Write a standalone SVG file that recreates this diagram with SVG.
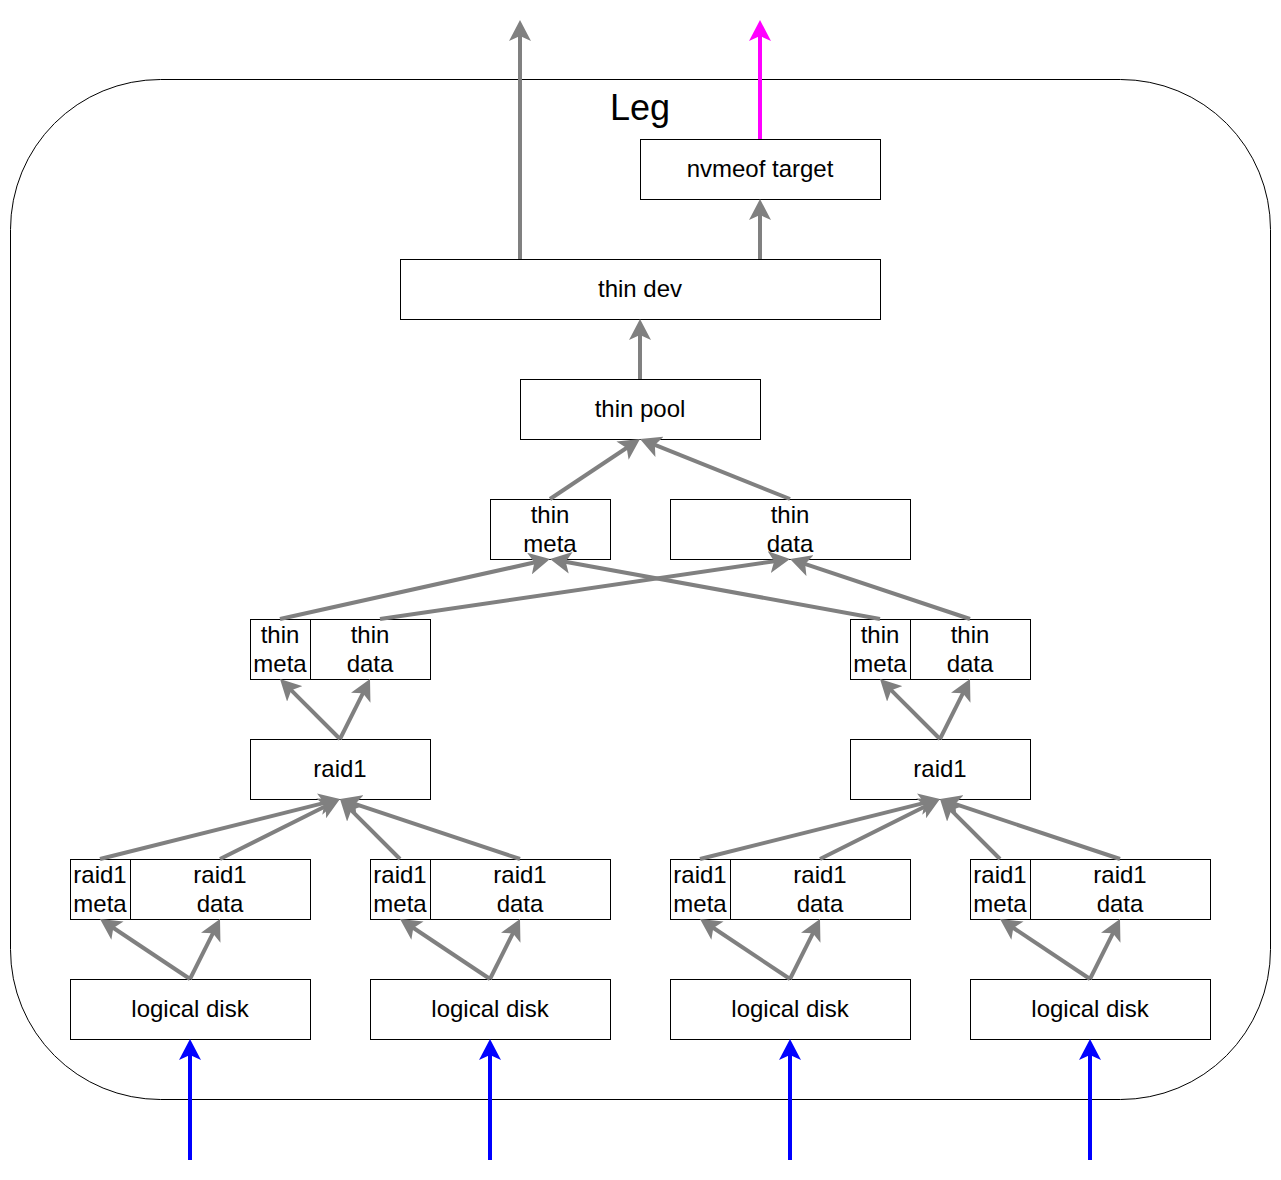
<svg xmlns="http://www.w3.org/2000/svg" width="1281" height="1180" viewBox="0 0 1281 1180">
<style>
.box{fill:#fff;stroke:#000;stroke-width:1}
.t{font-family:"Liberation Sans",Arial,sans-serif;font-size:24px;fill:#000;text-anchor:middle}
.g{stroke:#808080;stroke-width:4;fill:none;marker-end:url(#ag)}
.b{stroke:#0000ff;stroke-width:4;fill:none;marker-end:url(#ab)}
.m{stroke:#ff00ff;stroke-width:4;fill:none;marker-end:url(#am)}
</style>
<defs>
<marker id="ag" markerUnits="userSpaceOnUse" markerWidth="22" markerHeight="22" viewBox="0 0 22 22" refX="7" refY="11" orient="auto"><path d="M0,0 L21,11 L0,22 L5,11 Z" fill="#808080"/></marker>
<marker id="ab" markerUnits="userSpaceOnUse" markerWidth="22" markerHeight="22" viewBox="0 0 22 22" refX="7" refY="11" orient="auto"><path d="M0,0 L21,11 L0,22 L5,11 Z" fill="#0000ff"/></marker>
<marker id="am" markerUnits="userSpaceOnUse" markerWidth="22" markerHeight="22" viewBox="0 0 22 22" refX="7" refY="11" orient="auto"><path d="M0,0 L21,11 L0,22 L5,11 Z" fill="#ff00ff"/></marker>
</defs>
<rect width="1281" height="1180" fill="#fff"/>
<g id="leg">
<rect x="10.5" y="79.5" width="1260" height="1020" rx="150" ry="150" fill="#fff" stroke="#000" stroke-width="1"/>
<text x="640" y="120" class="t" style="font-size:36px">Leg</text>
</g>
<g id="nvmeof"><rect class="box" x="640.5" y="139.5" width="240" height="60"/><text class="t" x="760" y="177">nvmeof target</text></g>
<g id="thindev"><rect class="box" x="400.5" y="259.5" width="480" height="60"/><text class="t" x="640" y="297">thin dev</text></g>
<g id="thinpool"><rect class="box" x="520.5" y="379.5" width="240" height="60"/><text class="t" x="640" y="417">thin pool</text></g>
<g id="thinmeta"><rect class="box" x="490.5" y="499.5" width="120" height="60"/><text class="t" x="550" y="523">thin</text><text class="t" x="550" y="552">meta</text></g>
<g id="thindata"><rect class="box" x="670.5" y="499.5" width="240" height="60"/><text class="t" x="790" y="523">thin</text><text class="t" x="790" y="552">data</text></g>
<g id="tmL"><rect class="box" x="250.5" y="619.5" width="60" height="60"/><text class="t" x="280" y="643">thin</text><text class="t" x="280" y="672">meta</text></g>
<g id="tdL"><rect class="box" x="310.5" y="619.5" width="120" height="60"/><text class="t" x="370" y="643">thin</text><text class="t" x="370" y="672">data</text></g>
<g id="tmR"><rect class="box" x="850.5" y="619.5" width="60" height="60"/><text class="t" x="880" y="643">thin</text><text class="t" x="880" y="672">meta</text></g>
<g id="tdR"><rect class="box" x="910.5" y="619.5" width="120" height="60"/><text class="t" x="970" y="643">thin</text><text class="t" x="970" y="672">data</text></g>
<g id="raidL"><rect class="box" x="250.5" y="739.5" width="180" height="60"/><text class="t" x="340" y="777">raid1</text></g>
<g id="raidR"><rect class="box" x="850.5" y="739.5" width="180" height="60"/><text class="t" x="940" y="777">raid1</text></g>
<g id="rm1"><rect class="box" x="70.5" y="859.5" width="60" height="60"/><text class="t" x="100" y="883">raid1</text><text class="t" x="100" y="912">meta</text></g>
<g id="rd1"><rect class="box" x="130.5" y="859.5" width="180" height="60"/><text class="t" x="220" y="883">raid1</text><text class="t" x="220" y="912">data</text></g>
<g id="rm2"><rect class="box" x="370.5" y="859.5" width="60" height="60"/><text class="t" x="400" y="883">raid1</text><text class="t" x="400" y="912">meta</text></g>
<g id="rd2"><rect class="box" x="430.5" y="859.5" width="180" height="60"/><text class="t" x="520" y="883">raid1</text><text class="t" x="520" y="912">data</text></g>
<g id="rm3"><rect class="box" x="670.5" y="859.5" width="60" height="60"/><text class="t" x="700" y="883">raid1</text><text class="t" x="700" y="912">meta</text></g>
<g id="rd3"><rect class="box" x="730.5" y="859.5" width="180" height="60"/><text class="t" x="820" y="883">raid1</text><text class="t" x="820" y="912">data</text></g>
<g id="rm4"><rect class="box" x="970.5" y="859.5" width="60" height="60"/><text class="t" x="1000" y="883">raid1</text><text class="t" x="1000" y="912">meta</text></g>
<g id="rd4"><rect class="box" x="1030.5" y="859.5" width="180" height="60"/><text class="t" x="1120" y="883">raid1</text><text class="t" x="1120" y="912">data</text></g>
<g id="ld1"><rect class="box" x="70.5" y="979.5" width="240" height="60"/><text class="t" x="190" y="1017">logical disk</text></g>
<g id="ld2"><rect class="box" x="370.5" y="979.5" width="240" height="60"/><text class="t" x="490" y="1017">logical disk</text></g>
<g id="ld3"><rect class="box" x="670.5" y="979.5" width="240" height="60"/><text class="t" x="790" y="1017">logical disk</text></g>
<g id="ld4"><rect class="box" x="970.5" y="979.5" width="240" height="60"/><text class="t" x="1090" y="1017">logical disk</text></g>
<g id="connectors">
<line class="g" x1="190" y1="979" x2="111.65" y2="926.77"/>
<line class="g" x1="190" y1="979" x2="213.74" y2="931.52"/>
<line class="g" x1="490" y1="979" x2="411.65" y2="926.77"/>
<line class="g" x1="490" y1="979" x2="513.74" y2="931.52"/>
<line class="g" x1="790" y1="979" x2="711.65" y2="926.77"/>
<line class="g" x1="790" y1="979" x2="813.74" y2="931.52"/>
<line class="g" x1="1090" y1="979" x2="1011.65" y2="926.77"/>
<line class="g" x1="1090" y1="979" x2="1113.74" y2="931.52"/>
<line class="g" x1="100" y1="859" x2="326.42" y2="802.40"/>
<line class="g" x1="220" y1="859" x2="327.48" y2="805.26"/>
<line class="g" x1="400" y1="859" x2="349.90" y2="808.90"/>
<line class="g" x1="520" y1="859" x2="353.28" y2="803.43"/>
<line class="g" x1="700" y1="859" x2="926.42" y2="802.40"/>
<line class="g" x1="820" y1="859" x2="927.48" y2="805.26"/>
<line class="g" x1="1000" y1="859" x2="949.90" y2="808.90"/>
<line class="g" x1="1120" y1="859" x2="953.28" y2="803.43"/>
<line class="g" x1="340" y1="739" x2="289.90" y2="688.90"/>
<line class="g" x1="340" y1="739" x2="363.74" y2="691.52"/>
<line class="g" x1="940" y1="739" x2="889.90" y2="688.90"/>
<line class="g" x1="940" y1="739" x2="963.74" y2="691.52"/>
<line class="g" x1="280" y1="619" x2="536.33" y2="562.04"/>
<line class="g" x1="380" y1="619" x2="776.15" y2="561.03"/>
<line class="g" x1="880" y1="619" x2="563.77" y2="561.50"/>
<line class="g" x1="970" y1="619" x2="803.28" y2="563.43"/>
<line class="g" x1="550" y1="499" x2="628.35" y2="446.77"/>
<line class="g" x1="790" y1="499" x2="653.00" y2="444.20"/>
<line class="g" x1="640" y1="379" x2="640" y2="333"/>
<line class="g" x1="760" y1="259" x2="760" y2="213"/>
<line class="g" x1="520" y1="259" x2="520" y2="34"/>
<line class="m" x1="760" y1="139" x2="760" y2="34"/>
<line class="b" x1="190" y1="1160" x2="190" y2="1053"/>
<line class="b" x1="490" y1="1160" x2="490" y2="1053"/>
<line class="b" x1="790" y1="1160" x2="790" y2="1053"/>
<line class="b" x1="1090" y1="1160" x2="1090" y2="1053"/>
</g>
</svg>
